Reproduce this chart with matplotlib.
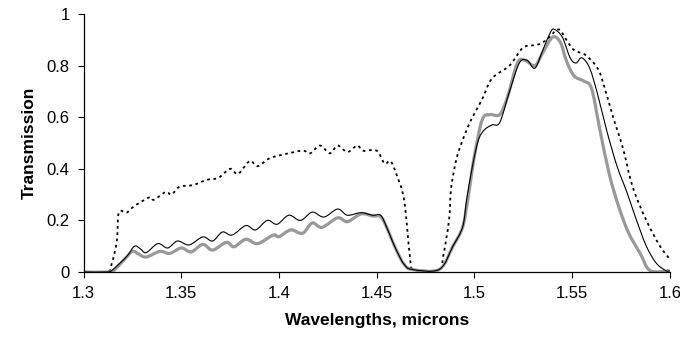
import matplotlib
matplotlib.use("Agg")
import matplotlib.pyplot as plt
from matplotlib.path import Path
from matplotlib.patches import PathPatch

plt.rcParams['font.family'] = ['Liberation Sans', 'DejaVu Sans']

# dotted curve (top)
wl_dot = [1.300, 1.312, 1.3143, 1.317, 1.318, 1.322, 1.325, 1.329, 1.334, 1.336, 1.342, 1.345,
          1.349, 1.356, 1.363, 1.369, 1.375, 1.379, 1.385, 1.389, 1.395, 1.402, 1.412, 1.416,
          1.421, 1.426, 1.430, 1.435, 1.440, 1.443, 1.450, 1.454, 1.457, 1.460, 1.464, 1.467,
          1.469, 1.482, 1.484, 1.487, 1.488, 1.490, 1.492, 1.496, 1.499, 1.504, 1.509, 1.518,
          1.525, 1.532, 1.537, 1.543, 1.547, 1.551, 1.557, 1.563, 1.566, 1.571, 1.576, 1.581,
          1.588, 1.595, 1.600]
tr_dot = [0.0, 0.0, 0.03, 0.12, 0.23, 0.23, 0.25, 0.27, 0.29, 0.28, 0.31, 0.30,
          0.33, 0.337, 0.357, 0.365, 0.40, 0.38, 0.43, 0.41, 0.44, 0.455, 0.47, 0.46,
          0.49, 0.46, 0.49, 0.465, 0.49, 0.47, 0.47, 0.42, 0.43, 0.38, 0.28, 0.06,
          0.01, 0.01, 0.06, 0.20, 0.32, 0.41, 0.47, 0.55, 0.60, 0.67, 0.75, 0.80,
          0.87, 0.88, 0.90, 0.94, 0.90, 0.86, 0.84, 0.79, 0.73, 0.60, 0.48, 0.33,
          0.20, 0.10, 0.05]

# thin black curve
wl_blk = [1.300, 1.312, 1.315, 1.322, 1.326, 1.329, 1.332, 1.338, 1.343, 1.348, 1.354, 1.361,
          1.366, 1.371, 1.376, 1.383, 1.388, 1.394, 1.399, 1.405, 1.411, 1.417, 1.423, 1.430,
          1.435, 1.442, 1.448, 1.452, 1.455, 1.458, 1.461, 1.464, 1.468, 1.482, 1.489, 1.494,
          1.496, 1.499, 1.502, 1.505, 1.509, 1.513, 1.518, 1.523, 1.527, 1.531, 1.535, 1.539,
          1.541, 1.545, 1.549, 1.552, 1.555, 1.559, 1.563, 1.568, 1.573, 1.578, 1.583, 1.588,
          1.593, 1.598, 1.600]
tr_blk = [0.0, 0.0, 0.01, 0.06, 0.10, 0.09, 0.075, 0.11, 0.093, 0.12, 0.105, 0.136,
          0.12, 0.155, 0.143, 0.18, 0.163, 0.20, 0.185, 0.22, 0.20, 0.232, 0.213, 0.244,
          0.22, 0.23, 0.22, 0.22, 0.175, 0.12, 0.07, 0.03, 0.01, 0.01, 0.10, 0.175,
          0.28, 0.41, 0.51, 0.55, 0.57, 0.58, 0.70, 0.81, 0.82, 0.79, 0.86, 0.93,
          0.94, 0.91, 0.83, 0.81, 0.83, 0.79, 0.69, 0.54, 0.41, 0.31, 0.20, 0.10,
          0.035, 0.005, 0.005]

# thick grey curve
wl_gry = [1.300, 1.313, 1.316, 1.321, 1.325, 1.328, 1.332, 1.339, 1.344, 1.350, 1.355, 1.361,
          1.366, 1.373, 1.377, 1.383, 1.389, 1.397, 1.400, 1.406, 1.412, 1.417, 1.422, 1.430,
          1.435, 1.442, 1.448, 1.452, 1.455, 1.458, 1.461, 1.464, 1.468, 1.482, 1.489, 1.494,
          1.497, 1.500, 1.504, 1.508, 1.513, 1.517, 1.522, 1.526, 1.531, 1.535, 1.540, 1.544,
          1.547, 1.551, 1.556, 1.560, 1.564, 1.569, 1.574, 1.579, 1.585, 1.590, 1.600]
tr_gry = [0.0, 0.0, 0.01, 0.05, 0.08, 0.07, 0.058, 0.08, 0.072, 0.093, 0.078, 0.107,
          0.085, 0.115, 0.098, 0.127, 0.11, 0.143, 0.137, 0.163, 0.15, 0.19, 0.173, 0.21,
          0.195, 0.225, 0.217, 0.215, 0.175, 0.12, 0.07, 0.03, 0.01, 0.01, 0.10, 0.175,
          0.30, 0.45, 0.59, 0.61, 0.61, 0.68, 0.81, 0.82, 0.80, 0.85, 0.91, 0.89,
          0.82, 0.76, 0.74, 0.71, 0.56, 0.38, 0.25, 0.15, 0.07, 0.005, 0.005]


def smooth_path(xs, ys):
    # Excel-style smoothed line: Catmull-Rom segments as cubic Bezier curves
    pts = list(zip(xs, ys))
    verts = [pts[0]]
    codes = [Path.MOVETO]
    n = len(pts)
    for i in range(n - 1):
        p0 = pts[i - 1] if i > 0 else pts[i]
        p1 = pts[i]
        p2 = pts[i + 1]
        p3 = pts[i + 2] if i + 2 < n else pts[i + 1]
        c1 = (p1[0] + (p2[0] - p0[0]) / 6, p1[1] + (p2[1] - p0[1]) / 6)
        c2 = (p2[0] - (p3[0] - p1[0]) / 6, p2[1] - (p3[1] - p1[1]) / 6)
        verts += [c1, c2, p2]
        codes += [Path.CURVE4] * 3
    return Path(verts, codes)


fig = plt.figure(figsize=(6.8, 3.4), dpi=100)
ax = fig.add_axes([0.123, 0.2, 0.862, 0.759])

ax.add_patch(PathPatch(smooth_path(wl_dot, tr_dot), fill=False, edgecolor='black',
                       linestyle=(0, (1.5, 2)), linewidth=1.3))
ax.add_patch(PathPatch(smooth_path(wl_gry, tr_gry), fill=False, edgecolor='#999999',
                       linewidth=2.3))
ax.add_patch(PathPatch(smooth_path(wl_blk, tr_blk), fill=False, edgecolor='black',
                       linewidth=0.8))

ax.set_xlim(1.3, 1.6)
ax.set_ylim(0, 1)
ax.set_xticks([1.3, 1.35, 1.4, 1.45, 1.5, 1.55, 1.6])
ax.set_xticklabels(['1.3', '1.35', '1.4', '1.45', '1.5', '1.55', '1.6'])
ax.set_yticks([0, 0.2, 0.4, 0.6, 0.8, 1])
ax.set_yticklabels(['0', '0.2', '0.4', '0.6', '0.8', '1'])
ax.spines['top'].set_visible(False)
ax.spines['right'].set_visible(False)
ax.spines['left'].set_linewidth(0.9)
ax.spines['bottom'].set_linewidth(0.9)
ax.tick_params(direction='out', length=4.5, width=0.8, labelsize=12, pad=5.5)
ax.set_xlabel('Wavelengths, microns', fontsize=12.5, fontweight='bold', labelpad=9)
ax.set_ylabel('Transmission', fontsize=12.5, fontweight='bold', labelpad=7)

fig.savefig('out.png', dpi=100)
